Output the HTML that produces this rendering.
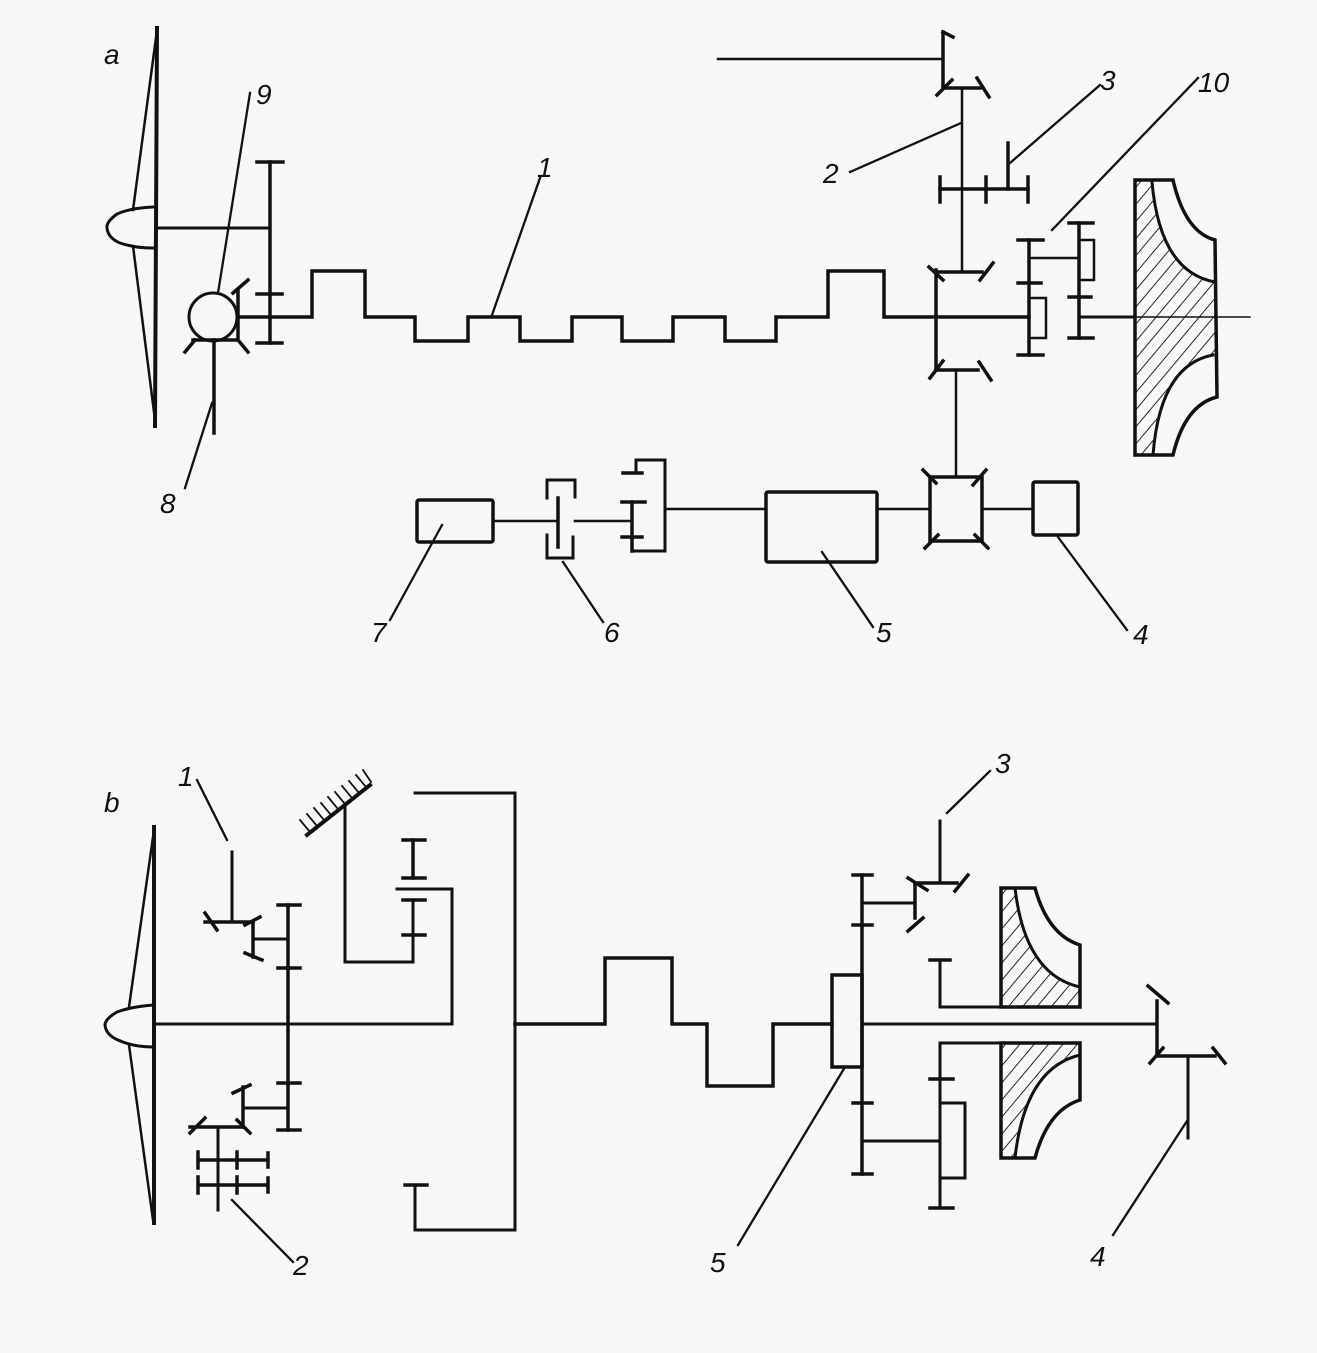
<!DOCTYPE html>
<html><head><meta charset="utf-8"><style>
html,body{margin:0;padding:0;background:#f7f7f5;}
svg{display:block}
text{font-family:"Liberation Sans",sans-serif;font-style:italic;font-size:28px;fill:#111}
</style></head><body>
<svg width="1317" height="1353" viewBox="0 0 1317 1353" xmlns="http://www.w3.org/2000/svg">
<defs>
<pattern id="h" width="11" height="11" patternUnits="userSpaceOnUse" patternTransform="rotate(40)">
<line x1="0" y1="0" x2="0" y2="11" stroke="#111" stroke-width="1.8"/>
</pattern>
</defs>
<rect width="1317" height="1353" fill="#f7f7f5"/>
<g fill="none" stroke="#111" stroke-width="3.5" stroke-linecap="square" stroke-linejoin="miter">

<!-- ===== a ===== -->
<!-- propeller -->
<line x1="157" y1="28" x2="155" y2="426" stroke-width="4"/>
<path d="M157,30 L133,210 M133,246 L155,420" stroke-width="2.5"/>
<path d="M153,207 Q130,208 117,214 Q106,222 107,228 Q108,238 120,243 Q135,248 153,248" stroke-width="3"/>
<line x1="157" y1="228" x2="270" y2="228" stroke-width="3"/>
<!-- gear -->
<line x1="270" y1="162" x2="270" y2="343"/>
<line x1="257" y1="162" x2="283" y2="162"/>
<line x1="257" y1="294" x2="282" y2="294"/>
<line x1="257" y1="343" x2="282" y2="343"/>
<!-- sphere 9 -->
<circle cx="213" cy="317" r="24" stroke-width="3"/>
<path d="M233,293 L248,280 M238,290 L238,340 M193,340 L238,340 M185,352 L195,340 M238,340 L248,352"/>
<line x1="214" y1="340" x2="214" y2="433"/>
<!-- crankshaft -->
<path d="M238,317 L312,317 L312,271 L365,271 L365,317 L415,317 L415,341 L468,341 L468,317 L520,317 L520,341 L572,341 L572,317 L622,317 L622,341 L673,341 L673,317 L725,317 L725,341 L776,341 L776,317 L828,317 L828,271 L884,271 L884,317 L1029,317"/>
<!-- top T and bevel -->
<line x1="718" y1="59" x2="943" y2="59" stroke-width="2.5"/>
<line x1="943" y1="32" x2="943" y2="88"/>
<line x1="943" y1="32" x2="953" y2="37"/>
<line x1="943" y1="88" x2="980" y2="88"/>
<line x1="937" y1="95" x2="952" y2="80"/>
<line x1="977" y1="78" x2="989" y2="97"/>
<line x1="962" y1="88" x2="962" y2="272" stroke-width="2.5"/>
<!-- gear 3 -->
<line x1="940" y1="189" x2="1028" y2="189"/>
<line x1="940" y1="177" x2="940" y2="202"/>
<line x1="986" y1="177" x2="986" y2="202"/>
<line x1="1028" y1="177" x2="1028" y2="202"/>
<line x1="1008" y1="143" x2="1008" y2="189"/>
<!-- differential -->
<line x1="936" y1="270" x2="936" y2="370"/>
<line x1="936" y1="272" x2="982" y2="272"/>
<line x1="929" y1="267" x2="943" y2="280"/>
<line x1="993" y1="263" x2="980" y2="280"/>
<line x1="936" y1="370" x2="978" y2="370"/>
<line x1="930" y1="378" x2="943" y2="361"/>
<line x1="979" y1="362" x2="991" y2="380"/>
<line x1="956" y1="370" x2="956" y2="477" stroke-width="2.5"/>
<!-- gears 10 -->
<line x1="1029" y1="240" x2="1029" y2="355"/>
<line x1="1018" y1="240" x2="1043" y2="240"/>
<line x1="1018" y1="283" x2="1041" y2="283"/>
<line x1="1018" y1="355" x2="1043" y2="355"/>
<path d="M1029,298 L1046,298 L1046,338 L1029,338" stroke-width="2.5"/>
<line x1="1029" y1="258" x2="1079" y2="258" stroke-width="2.5"/>
<line x1="1079" y1="223" x2="1079" y2="338"/>
<line x1="1069" y1="223" x2="1093" y2="223"/>
<line x1="1069" y1="297" x2="1091" y2="297"/>
<line x1="1069" y1="338" x2="1093" y2="338"/>
<path d="M1079,240 L1094,240 L1094,280 L1079,280" stroke-width="2.5"/>
<line x1="1079" y1="317" x2="1135" y2="317" stroke-width="3"/>
<line x1="1135" y1="317" x2="1250" y2="317" stroke-width="1.5"/>
<!-- impeller a -->
<path d="M1135,180 L1152,182 Q1160,272 1215,282 L1215,355 Q1160,365 1153,455 L1135,455 Z" fill="url(#h)" stroke="none"/>
<path d="M1135,180 L1173,180 Q1185,232 1215,240 L1217,397 Q1185,405 1173,455 L1135,455 Z" stroke-width="3.5"/>
<path d="M1152,182 Q1160,272 1215,282 M1213,355 Q1160,365 1153,455" stroke-width="3"/>
<!-- lower chain -->
<rect x="417" y="500" width="76" height="42" rx="2"/>
<line x1="493" y1="521" x2="558" y2="521" stroke-width="2.5"/>
<line x1="558" y1="498" x2="558" y2="547"/>
<path d="M547,498 L547,480 L575,480 L575,497 M547,535 L547,558 L573,558 L573,537" stroke-width="3"/>
<line x1="575" y1="521" x2="632" y2="521" stroke-width="2.5"/>
<line x1="632" y1="502" x2="632" y2="551"/>
<line x1="622" y1="502" x2="645" y2="502"/>
<line x1="622" y1="537" x2="642" y2="537"/>
<line x1="623" y1="473" x2="642" y2="473"/>
<path d="M636,473 L636,460 L665,460 L665,551 L632,551" stroke-width="3"/>
<line x1="665" y1="509" x2="766" y2="509" stroke-width="2.5"/>
<rect x="766" y="492" width="111" height="70" rx="2"/>
<line x1="877" y1="509" x2="930" y2="509" stroke-width="2.5"/>
<rect x="930" y="477" width="52" height="64"/>
<path d="M923,470 L936,483 M986,470 L973,485 M925,548 L938,535 M975,535 L988,548"/>
<line x1="982" y1="509" x2="1033" y2="509" stroke-width="2.5"/>
<rect x="1033" y="482" width="45" height="53" rx="2"/>

<!-- leaders a -->
<g stroke-width="2.3">
<line x1="250" y1="93" x2="218" y2="293"/>
<line x1="212" y1="403" x2="185" y2="488"/>
<line x1="540" y1="178" x2="492" y2="315"/>
<line x1="850" y1="172" x2="961" y2="123"/>
<line x1="1010" y1="163" x2="1100" y2="85"/>
<line x1="1052" y1="230" x2="1198" y2="78"/>
<line x1="442" y1="525" x2="390" y2="620"/>
<line x1="563" y1="562" x2="603" y2="622"/>
<line x1="822" y1="552" x2="873" y2="627"/>
<line x1="1058" y1="537" x2="1127" y2="630"/>
</g>

<!-- ===== b ===== -->
<line x1="154" y1="827" x2="154" y2="1223" stroke-width="4"/>
<path d="M154,830 L129,1007 M129,1045 L153,1220" stroke-width="2.5"/>
<path d="M153,1005 Q130,1007 117,1012 Q105,1019 105,1025 Q106,1035 118,1040 Q133,1047 153,1047" stroke-width="3"/>
<path d="M154,1024 L452,1024 L452,889 L397,889" stroke-width="3"/>
<!-- gear -->
<line x1="288" y1="905" x2="288" y2="1130"/>
<line x1="278" y1="905" x2="300" y2="905"/>
<line x1="278" y1="968" x2="300" y2="968"/>
<line x1="278" y1="1083" x2="300" y2="1083"/>
<line x1="278" y1="1130" x2="300" y2="1130"/>
<!-- upper bevels -->
<line x1="288" y1="939" x2="253" y2="939" stroke-width="3"/>
<line x1="253" y1="922" x2="253" y2="957"/>
<line x1="245" y1="925" x2="260" y2="917"/>
<line x1="245" y1="953" x2="262" y2="960"/>
<line x1="205" y1="922" x2="253" y2="922"/>
<line x1="205" y1="913" x2="217" y2="930"/>
<line x1="232" y1="852" x2="232" y2="922" stroke-width="3"/>
<!-- lower bevels -->
<line x1="288" y1="1108" x2="243" y2="1108" stroke-width="3"/>
<line x1="243" y1="1087" x2="243" y2="1127"/>
<line x1="233" y1="1093" x2="250" y2="1085"/>
<line x1="237" y1="1120" x2="250" y2="1133"/>
<line x1="190" y1="1127" x2="243" y2="1127"/>
<line x1="190" y1="1133" x2="205" y2="1118"/>
<line x1="218" y1="1127" x2="218" y2="1210" stroke-width="3"/>
<path d="M198,1160 L268,1160 M198,1185 L268,1185 M198,1152 L198,1168 M237,1152 L237,1168 M268,1153 L268,1167 M198,1177 L198,1193 M237,1177 L237,1193 M268,1178 L268,1192"/>
<!-- ground hatch -->
<line x1="307" y1="835" x2="370" y2="785" stroke-width="4"/>
<g stroke-width="1.8">
<line x1="300" y1="820" x2="310" y2="832"/><line x1="307" y1="814" x2="317" y2="826"/>
<line x1="314" y1="808" x2="324" y2="820"/><line x1="321" y1="803" x2="331" y2="815"/>
<line x1="328" y1="797" x2="338" y2="809"/><line x1="335" y1="792" x2="345" y2="804"/>
<line x1="342" y1="786" x2="352" y2="798"/><line x1="349" y1="781" x2="359" y2="793"/>
<line x1="356" y1="775" x2="366" y2="787"/><line x1="363" y1="770" x2="371" y2="782"/>
</g>
<path d="M345,807 L345,962 L413,962 L413,900" stroke-width="3"/>
<line x1="413" y1="840" x2="413" y2="878"/>
<line x1="403" y1="840" x2="425" y2="840"/>
<line x1="403" y1="878" x2="425" y2="878"/>
<line x1="403" y1="900" x2="425" y2="900"/>
<line x1="403" y1="935" x2="425" y2="935"/>
<path d="M415,793 L515,793 L515,1230 L415,1230 L415,1185" stroke-width="3"/>
<line x1="405" y1="1185" x2="427" y2="1185"/>
<!-- crank b -->
<path d="M515,1024 L605,1024 L605,958 L672,958 L672,1024 L707,1024 L707,1086 L773,1086 L773,1024 L832,1024"/>
<rect x="832" y="975" width="30" height="92"/>
<!-- right gear -->
<line x1="862" y1="875" x2="862" y2="1174"/>
<line x1="853" y1="875" x2="872" y2="875"/>
<line x1="853" y1="925" x2="872" y2="925"/>
<line x1="853" y1="1103" x2="872" y2="1103"/>
<line x1="853" y1="1174" x2="872" y2="1174"/>
<line x1="862" y1="903" x2="915" y2="903" stroke-width="3"/>
<line x1="915" y1="885" x2="915" y2="918"/>
<line x1="908" y1="878" x2="927" y2="890"/>
<line x1="908" y1="931" x2="923" y2="918"/>
<line x1="915" y1="883" x2="957" y2="883"/>
<line x1="955" y1="891" x2="968" y2="875"/>
<line x1="940" y1="821" x2="940" y2="883" stroke-width="3"/>
<!-- bearing lines -->
<line x1="930" y1="960" x2="950" y2="960"/>
<path d="M940,960 L940,1007 L1001,1007" stroke-width="3"/>
<path d="M1001,1043 L940,1043 L940,1208" stroke-width="3"/>
<line x1="930" y1="1079" x2="953" y2="1079"/>
<line x1="930" y1="1208" x2="953" y2="1208"/>
<path d="M940,1103 L965,1103 L965,1178 L940,1178" stroke-width="3"/>
<line x1="862" y1="1141" x2="940" y2="1141" stroke-width="3"/>
<!-- main shaft to bevel 4 -->
<line x1="862" y1="1024" x2="1157" y2="1024" stroke-width="3"/>
<line x1="1157" y1="1001" x2="1157" y2="1055"/>
<line x1="1148" y1="986" x2="1168" y2="1003"/>
<line x1="1150" y1="1063" x2="1163" y2="1048"/>
<line x1="1157" y1="1056" x2="1215" y2="1056"/>
<line x1="1213" y1="1048" x2="1225" y2="1063"/>
<line x1="1188" y1="1056" x2="1188" y2="1138" stroke-width="3"/>
<!-- impellers b -->
<path d="M1001,888 L1015,888 Q1025,975 1080,987 L1080,1007 L1001,1007 Z" fill="url(#h)" stroke="none"/>
<path d="M1001,888 L1035,888 Q1048,935 1080,945 L1080,1007 L1001,1007 Z"/>
<path d="M1015,888 Q1025,975 1080,987" stroke-width="3"/>
<path d="M1001,1043 L1080,1043 L1080,1055 Q1025,1068 1015,1158 L1001,1158 Z" fill="url(#h)" stroke="none"/>
<path d="M1001,1043 L1080,1043 L1080,1100 Q1048,1110 1035,1158 L1001,1158 Z"/>
<path d="M1080,1055 Q1025,1068 1015,1158" stroke-width="3"/>
<!-- leaders b -->
<g stroke-width="2.3">
<line x1="197" y1="780" x2="227" y2="840"/>
<line x1="232" y1="1200" x2="293" y2="1262"/>
<line x1="947" y1="813" x2="990" y2="771"/>
<line x1="845" y1="1067" x2="738" y2="1245"/>
<line x1="1187" y1="1121" x2="1113" y2="1235"/>
</g>
</g>
<!-- labels -->
<text x="104" y="64">a</text>
<text x="256" y="104">9</text>
<text x="537" y="177">1</text>
<text x="823" y="183">2</text>
<text x="1100" y="90">3</text>
<text x="1198" y="92">10</text>
<text x="160" y="513">8</text>
<text x="371" y="642">7</text>
<text x="604" y="642">6</text>
<text x="876" y="642">5</text>
<text x="1133" y="644">4</text>
<text x="104" y="812">b</text>
<text x="178" y="786">1</text>
<text x="293" y="1275">2</text>
<text x="995" y="773">3</text>
<text x="710" y="1272">5</text>
<text x="1090" y="1266">4</text>
</svg>
</body></html>
